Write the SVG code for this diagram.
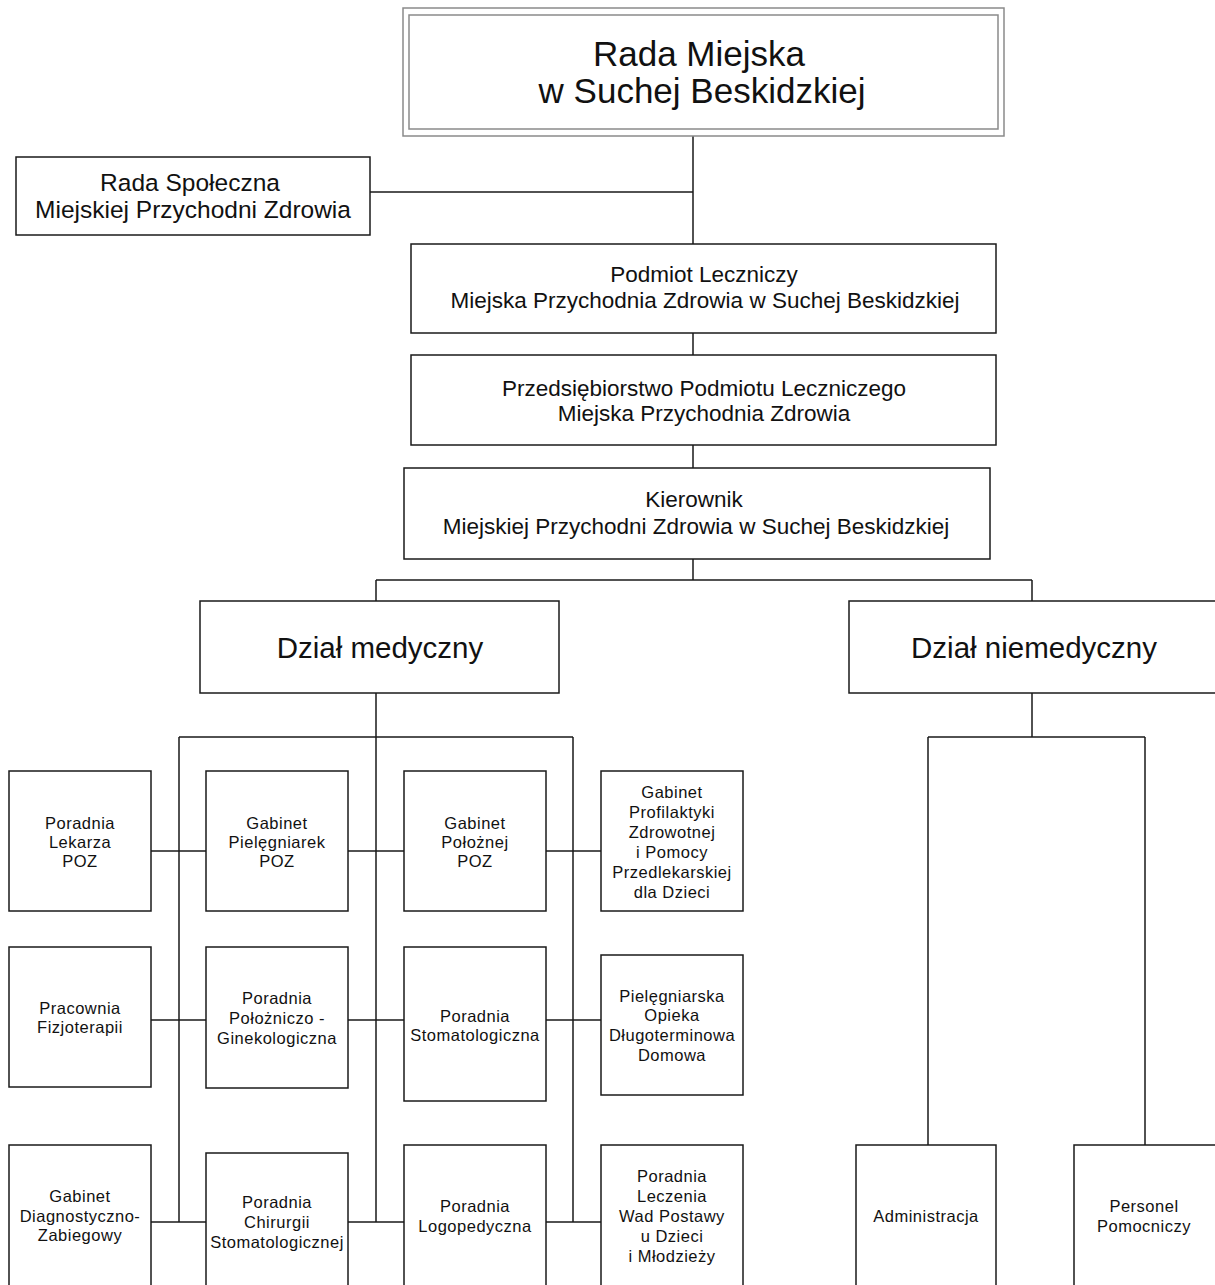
<svg xmlns="http://www.w3.org/2000/svg" width="1215" height="1285" viewBox="0 0 1215 1285">
<style>
.box{fill:#fff;stroke:#1a1a1a;stroke-width:1.5}
.dbl{fill:none;stroke:#8a8a8a;stroke-width:1.5}
.ln{stroke:#1a1a1a;stroke-width:1.5;fill:none}
text{font-family:"Liberation Sans",Arial,sans-serif;fill:#111;text-anchor:middle}
.t35{font-size:35px}
.t24{font-size:24.5px}
.t21{font-size:22.5px}
.t29{font-size:29.5px}
.s{font-size:16.5px;letter-spacing:0.5px}
</style>
<rect width="1215" height="1285" fill="#fff"/>
<g id="connectors">
<path class="ln" d="M693 136V244M370 192H693M693 333V355M693 445V468M693 559V580M376 580H1032M376 580V601M1032 580V601"/>
<path class="ln" d="M376 693V737M179 737H573M179 737V1222M376 737V1222M573 737V1222"/>
<path class="ln" d="M1032 693V737M928 737H1145M928 737V1145M1145 737V1145"/>
<path class="ln" d="M151 851H206M348 851H404M546 851H601M151 1020H206M348 1020H404M546 1020H601M151 1222H206M348 1222H404M546 1222H601"/>
</g>
<g id="rada-miejska">
<rect class="dbl" x="403" y="8" width="601" height="128"/>
<rect class="dbl" x="409" y="15" width="589" height="114"/>
<text class="t35" x="699" y="66">Rada Miejska</text>
<text class="t35" x="702" y="103">w Suchej Beskidzkiej</text>
</g>
<g id="rada-spoleczna">
<rect class="box" x="16" y="157" width="354" height="78"/>
<text class="t24" x="190" y="191">Rada Społeczna</text>
<text class="t24" x="193" y="218">Miejskiej Przychodni Zdrowia</text>
</g>
<g id="podmiot">
<rect class="box" x="411" y="244" width="585" height="89"/>
<text class="t21" x="704" y="282">Podmiot Leczniczy</text>
<text class="t21" x="705" y="308">Miejska Przychodnia Zdrowia w Suchej Beskidzkiej</text>
</g>
<g id="przedsiebiorstwo">
<rect class="box" x="411" y="355" width="585" height="90"/>
<text class="t21" x="704" y="396">Przedsiębiorstwo Podmiotu Leczniczego</text>
<text class="t21" x="704" y="421">Miejska Przychodnia Zdrowia</text>
</g>
<g id="kierownik">
<rect class="box" x="404" y="468" width="586" height="91"/>
<text class="t21" x="694" y="507">Kierownik</text>
<text class="t21" x="696" y="534">Miejskiej Przychodni Zdrowia w Suchej Beskidzkiej</text>
</g>
<g id="dzial-medyczny">
<rect class="box" x="200" y="601" width="359" height="92"/>
<text class="t29" x="380" y="658">Dział medyczny</text>
</g>
<g id="dzial-niemedyczny">
<rect class="box" x="849" y="601" width="380" height="92"/>
<text class="t29" x="1034" y="658">Dział niemedyczny</text>
</g>
<g id="poradnia-lekarza">
<rect class="box" x="9" y="771" width="142" height="140"/>
<text class="s" x="80" y="829">Poradnia</text>
<text class="s" x="80" y="848">Lekarza</text>
<text class="s" x="80" y="867">POZ</text>
</g>
<g id="gabinet-pielegniarek">
<rect class="box" x="206" y="771" width="142" height="140"/>
<text class="s" x="277" y="829">Gabinet</text>
<text class="s" x="277" y="848">Pielęgniarek</text>
<text class="s" x="277" y="867">POZ</text>
</g>
<g id="gabinet-poloznej">
<rect class="box" x="404" y="771" width="142" height="140"/>
<text class="s" x="475" y="829">Gabinet</text>
<text class="s" x="475" y="848">Położnej</text>
<text class="s" x="475" y="867">POZ</text>
</g>
<g id="gabinet-profilaktyki">
<rect class="box" x="601" y="771" width="142" height="140"/>
<text class="s" x="672" y="798">Gabinet</text>
<text class="s" x="672" y="818">Profilaktyki</text>
<text class="s" x="672" y="838">Zdrowotnej</text>
<text class="s" x="672" y="858">i Pomocy</text>
<text class="s" x="672" y="878">Przedlekarskiej</text>
<text class="s" x="672" y="898">dla Dzieci</text>
</g>
<g id="pracownia-fizjoterapii">
<rect class="box" x="9" y="947" width="142" height="140"/>
<text class="s" x="80" y="1014">Pracownia</text>
<text class="s" x="80" y="1033">Fizjoterapii</text>
</g>
<g id="poradnia-ginekologiczna">
<rect class="box" x="206" y="947" width="142" height="141"/>
<text class="s" x="277" y="1004">Poradnia</text>
<text class="s" x="277" y="1024">Położniczo -</text>
<text class="s" x="277" y="1044">Ginekologiczna</text>
</g>
<g id="poradnia-stomatologiczna">
<rect class="box" x="404" y="947" width="142" height="154"/>
<text class="s" x="475" y="1022">Poradnia</text>
<text class="s" x="475" y="1041">Stomatologiczna</text>
</g>
<g id="opieka-dlugoterminowa">
<rect class="box" x="601" y="955" width="142" height="140"/>
<text class="s" x="672" y="1002">Pielęgniarska</text>
<text class="s" x="672" y="1021">Opieka</text>
<text class="s" x="672" y="1041">Długoterminowa</text>
<text class="s" x="672" y="1061">Domowa</text>
</g>
<g id="gabinet-diagnostyczny">
<rect class="box" x="9" y="1145" width="142" height="145"/>
<text class="s" x="80" y="1202">Gabinet</text>
<text class="s" x="80" y="1222">Diagnostyczno-</text>
<text class="s" x="80" y="1241">Zabiegowy</text>
</g>
<g id="poradnia-chirurgii">
<rect class="box" x="206" y="1153" width="142" height="137"/>
<text class="s" x="277" y="1208">Poradnia</text>
<text class="s" x="277" y="1228">Chirurgii</text>
<text class="s" x="277" y="1248">Stomatologicznej</text>
</g>
<g id="poradnia-logopedyczna">
<rect class="box" x="404" y="1145" width="142" height="145"/>
<text class="s" x="475" y="1212">Poradnia</text>
<text class="s" x="475" y="1232">Logopedyczna</text>
</g>
<g id="poradnia-wad-postawy">
<rect class="box" x="601" y="1145" width="142" height="145"/>
<text class="s" x="672" y="1182">Poradnia</text>
<text class="s" x="672" y="1202">Leczenia</text>
<text class="s" x="672" y="1222">Wad Postawy</text>
<text class="s" x="672" y="1242">u Dzieci</text>
<text class="s" x="672" y="1262">i Młodzieży</text>
</g>
<g id="administracja">
<rect class="box" x="856" y="1145" width="140" height="145"/>
<text class="s" x="926" y="1222">Administracja</text>
</g>
<g id="personel-pomocniczy">
<rect class="box" x="1074" y="1145" width="160" height="145"/>
<text class="s" x="1144" y="1212">Personel</text>
<text class="s" x="1144" y="1232">Pomocniczy</text>
</g>
</svg>
